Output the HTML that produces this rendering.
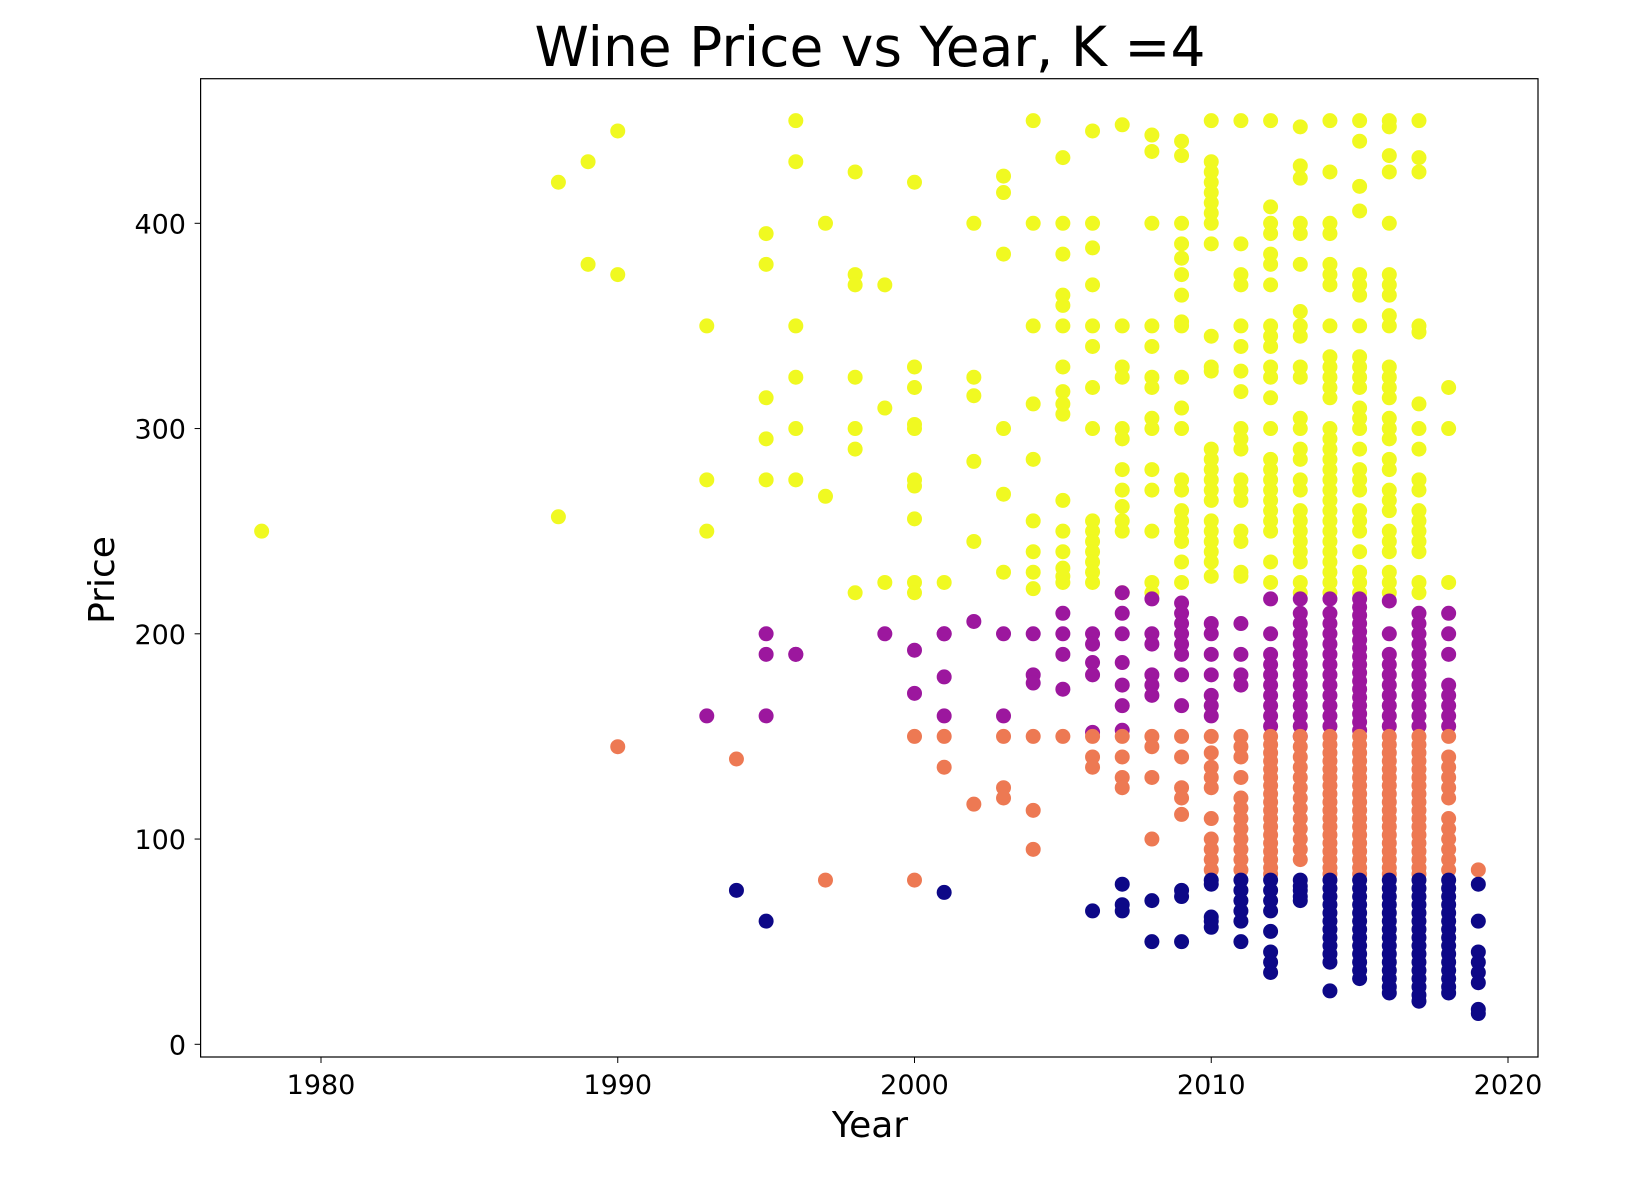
<!DOCTYPE html>
<html><head><meta charset="utf-8"><style>
html,body{margin:0;padding:0;background:#fff;}
svg{display:block;font-family:"DejaVu Sans","Liberation Sans",sans-serif;}
</style></head><body>
<svg id="chart" width="1638" height="1178" viewBox="0 0 1638 1178" xmlns="http://www.w3.org/2000/svg">
<rect width="1638" height="1178" fill="#fff"/>
<text x="870" y="66" font-size="55" text-anchor="middle" fill="#000">Wine Price vs Year, K =4</text>
<g id="points"></g>
<rect x="200.6" y="78.7" width="1337.4" height="978.3" fill="none" stroke="#000" stroke-width="1.2"/>
<g id="axes"></g>
<text x="870" y="1137" font-size="36" text-anchor="middle" fill="#000">Year</text>
<text x="0" y="0" font-size="36" text-anchor="middle" fill="#000" transform="translate(114,580) rotate(-90)">Price</text>
</svg>
<script>
const xTicks = [1980, 1990, 2000, 2010, 2020];
const yTicks = [0, 100, 200, 300, 400];

const yellowYears = [1978,1988,1989,1990,1993,1995,1996,1997,1998,1999,2000,2001,2002,2003,2004,2005,2006,2007,2008,2009,2010,2011,2012,2013,2014,2015,2016,2017,2018];
const yellowPrices = [
[250],[420,257],[430,380],[445,375],[350,275,250],[395,380,315,295,275],[450,430,350,325,300,275],[400,267],
[425,375,370,325,300,290,220],[370,310,225],[420,330,320,302,300,275,272,256,225,220],[225],[400,325,316,284,245],
[423,415,385,300,268,230],[450,400,350,312,285,255,240,230,222],
[432,400,385,365,360,350,330,318,312,307,265,250,240,232,228,225],
[445,400,388,370,350,340,320,300,255,250,245,240,235,230,225],
[448,350,330,325,300,295,280,270,262,255,250,220],
[443,435,400,350,340,325,320,305,300,280,270,250,225,220],
[440,433,400,390,383,375,365,352,350,325,310,300,275,270,260,255,250,245,235,225],
[450,430,425,420,415,410,405,400,390,345,330,328,290,285,280,275,270,265,255,250,245,240,235,228],
[450,390,375,370,350,340,328,318,300,295,290,275,270,265,250,245,230,228],
[450,408,400,395,385,380,370,350,345,340,330,325,315,300,285,280,275,270,265,260,255,250,235,225],
[447,428,422,400,395,380,357,350,345,330,325,305,300,290,285,275,270,260,255,250,245,240,235,225,220],
[450,425,400,395,380,375,370,350,335,330,325,320,315,300,295,290,285,280,275,270,265,260,255,250,245,240,235,230,225,220],
[450,440,418,406,375,370,365,350,335,330,325,320,310,305,300,290,280,275,270,260,255,250,240,230,225,220],
[450,447,433,425,400,375,370,365,355,350,330,325,320,315,305,300,295,285,280,270,265,260,250,245,240,230,225,220],
[450,432,425,350,347,312,300,290,275,270,260,255,250,245,240,225,220],
[320,300,225]];

const purpleYears = [1993,1995,1996,1999,2000,2001,2002,2003,2004,2005,2006,2007,2008,2009,2010,2011,2012,2013,2014,2015,2016,2017,2018];
const purplePrices = [
[160],[200,190,160],[190,190],[200],[192,171],[200,200,179,160],[206],[200,160],[200,180,176],[210,200,190,173],
[200,195,186,180,152],[220,210,200,186,175,165,153],[217,200,195,180,175,170],[215,210,205,200,195,190,180,165],
[205,200,190,180,170,165,160],[205,190,180,175],
[217,200,190,185,180,175,170,165,160,155],
[217,210,205,200,195,190,185,180,175,170,165,160,155,150],
[217,210,205,200,195,190,185,180,175,170,165,160,155],
[217,213,209,205,201,197,193,189,185,181,177,173,169,165,161,157,153],
[216,200,190,185,180,175,170,165,160,155],
[210,205,200,195,190,185,180,175,170,165,160,155],
[210,200,190,175,170,165,160,155]];

const orangeYears = [1990,1994,1997,2000,2001,2002,2003,2004,2005,2006,2007,2008,2009,2010,2011,2012,2013,2014,2015,2016,2017,2018,2019];
const orangePrices = [
[145],[139],[80],[150,80],[150,135],[117],[150,125,120],[150,114,95],[150],[150,140,135],[150,140,130,125],
[150,145,130,100],[150,140,125,120,112],[150,142,135,130,125,110,100,95,90,85],
[150,145,140,130,120,115,110,105,100,95,90,85],
[150,146,142,138,134,130,126,122,118,114,110,106,102,98,94,90,86,83],
[150,145,140,135,130,125,120,115,110,105,100,95,90],
[150,146,142,138,134,130,126,122,118,114,110,106,102,98,94,90,86,83],
[150,146,142,138,134,130,126,122,118,114,110,106,102,98,94,90,86,83],
[150,146,142,138,134,130,126,122,118,114,110,106,102,98,94,90,86,83],
[150,146,142,138,134,130,126,122,118,114,110,106,102,98,94,90,86,83],
[150,140,135,130,125,120,110,105,100,95,90,85],[85]];

const blueYears = [1994,1995,2001,2006,2007,2008,2009,2010,2011,2012,2013,2014,2015,2016,2017,2018,2019];
const bluePrices = [
[75],[60],[74],[65],[78,68,65],[70,50],[75,72,50],[80,78,62,60,57],[80,75,70,65,60,50],[80,75,70,65,55,45,40,35],
[80,77,75,72,70],
[80,76,72,68,64,60,56,52,48,44,40,26],
[80,76,72,68,64,60,56,52,48,44,40,36,32],
[80,76,72,68,64,60,56,52,48,44,40,36,32,28,25],
[80,76,72,68,64,60,56,52,48,44,40,36,32,28,24,21],
[80,76,72,68,64,60,56,52,48,44,40,36,32,28,25],
[78,60,45,40,35,30,17,15]];

const NS = "http://www.w3.org/2000/svg";
function xScale(yr){ return 321 + (yr - 1980) * 29.675; }
function yScale(p){ return 1044.3 - p * 2.0525; }

const layer = document.getElementById('points');
function drawCluster(years, prices, color, name){
  years.forEach(function(yr, i){
    prices[i].forEach(function(p){
      const c = document.createElementNS(NS, 'circle');
      c.setAttribute('cx', xScale(yr));
      c.setAttribute('cy', yScale(p));
      c.setAttribute('r', 7.5);
      c.setAttribute('fill', color);
      
      
      layer.appendChild(c);
    });
  });
}
drawCluster(yellowYears, yellowPrices, '#f0f921', 'point-cluster-yellow');
drawCluster(purpleYears, purplePrices, '#9c179e', 'point-cluster-purple');
drawCluster(orangeYears, orangePrices, '#ed7953', 'point-cluster-orange');
drawCluster(blueYears, bluePrices, '#0d0887', 'point-cluster-blue');

const axes = document.getElementById('axes');
xTicks.forEach(function(t){
  const x = xScale(t);
  const l = document.createElementNS(NS, 'line');
  l.setAttribute('x1', x); l.setAttribute('x2', x);
  l.setAttribute('y1', 1057); l.setAttribute('y2', 1063);
  l.setAttribute('stroke', '#000');
  
  
  axes.appendChild(l);
  const tx = document.createElementNS(NS, 'text');
  tx.setAttribute('x', x); tx.setAttribute('y', 1094);
  tx.setAttribute('font-size', '27'); tx.setAttribute('text-anchor', 'middle');
  tx.textContent = t;
  
  
  axes.appendChild(tx);
});
yTicks.forEach(function(t){
  const y = yScale(t);
  const l = document.createElementNS(NS, 'line');
  l.setAttribute('x1', 194.6); l.setAttribute('x2', 200.6);
  l.setAttribute('y1', y); l.setAttribute('y2', y);
  l.setAttribute('stroke', '#000');
  
  
  axes.appendChild(l);
  const tx = document.createElementNS(NS, 'text');
  tx.setAttribute('x', 186); tx.setAttribute('y', y + 10);
  tx.setAttribute('font-size', '27'); tx.setAttribute('text-anchor', 'end');
  tx.textContent = t;
  
  
  axes.appendChild(tx);
});
</script>
</body></html>
